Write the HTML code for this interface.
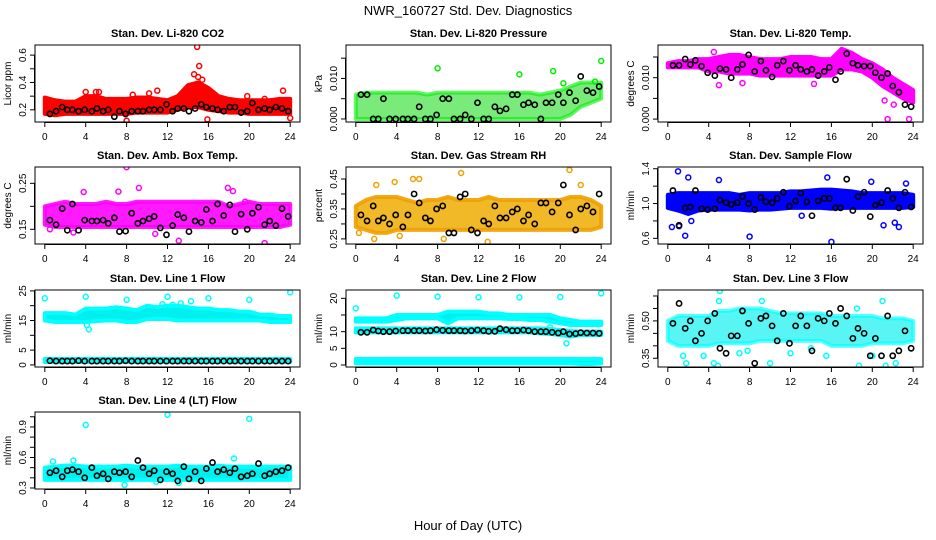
<!DOCTYPE html>
<html><head><meta charset="utf-8"><style>
body{margin:0;background:#fff}
svg{display:block;font-family:"Liberation Sans",sans-serif}
</style></head><body>
<svg id="chart" width="936" height="540" viewBox="0 0 936 540">
<text x="468" y="15" text-anchor="middle" font-size="13">NWR_160727  Std. Dev. Diagnostics</text>
<text x="468" y="530" text-anchor="middle" font-size="13">Hour of Day (UTC)</text>
<g id="panels"></g>
</svg>
<script>
const blackHours=[0.5,1.1,1.7,2.2,2.7,3.3,3.9,4.6,5.1,5.7,6.2,6.8,7.3,7.9,8.5,9.1,9.6,10.2,10.7,11.3,11.9,12.5,13.0,13.6,14.1,14.7,15.3,15.8,16.4,16.9,17.5,18.1,18.6,19.2,19.8,20.3,20.9,21.5,22.0,22.6,23.2,23.8];
const bandHours=[0,1,2,3,4,5,6,7,8,9,10,11,12,13,14,15,16,17,18,19,20,21,22,23,24];
const xTicks=[0,4,8,12,16,20,24];

const co2Lo=[.17,.16,.17,.17,.17,.17,.17,.17,.17,.18,.18,.18,.18,.2,.22,.22,.2,.19,.18,.18,.17,.17,.17,.17,.17];
const co2Hi=[.29,.27,.26,.26,.30,.30,.28,.28,.28,.29,.29,.28,.27,.30,.38,.40,.36,.30,.28,.27,.27,.27,.27,.28,.28];
const co2OutX=[4,5,5.3,8.6,10.2,11,14.6,14.9,15.1,15,15.4,15.9,8,23.3,24,19.8,21.5];
const co2OutY=[.33,.33,.33,.31,.32,.34,.46,.66,.52,.44,.42,.13,.12,.34,.14,.3,.28];
const co2Black=[.17,.19,.22,.20,.20,.19,.20,.19,.21,.19,.20,.15,.19,.17,.19,.19,.19,.20,.20,.20,.24,.19,.21,.21,.19,.21,.24,.22,.21,.20,.19,.22,.22,.18,.19,.25,.20,.21,.20,.22,.21,.19];
const prLo=[0,0,0,0,0,0,0,0,0,0,0,0,0,0,0,0,0,0,0,0,0,.001,.003,.004,.005];
const prHi=[.006,.0065,.0065,.0065,.0065,.0065,.0065,.006,.0065,.0065,.0065,.0065,.0065,.0065,.0065,.0065,.0065,.0065,.006,.0065,.007,.008,.009,.009,.009];
const prOutX=[8,16,19.3,20.3,23.4,24];
const prOutY=[.0125,.011,.0118,.0088,.0092,.0143];
const prBlack=[.006,.006,0,0,.005,0,0,0,0,0,.003,0,0,.001,.005,.005,0,0,.001,0,.004,0,0,.003,.002,.0025,.006,.006,.0035,.004,.0035,0,.004,.004,.006,.004,.0065,.0045,.0105,.007,.0065,.008];
const tLo=[.0125,.0125,.0125,.0125,.0115,.0115,.011,.011,.011,.0105,.0105,.0105,.0105,.0105,.0105,.0105,.0105,.012,.012,.0115,.010,.008,.0065,.005,.004];
const tHi=[.0135,.014,.014,.0145,.0145,.015,.0155,.0155,.015,.0145,.0145,.0145,.015,.015,.015,.0145,.0145,.017,.016,.0145,.0135,.012,.010,.0085,.007];
const tOutX=[4.5,5,7.3,14.3,21.5,23.6,22.1,21.2];
const tOutY=[.0162,.0082,.0087,.0085,0,0,.0035,.0045];
const tBlack=[.013,.013,.0145,.0132,.0142,.0128,.0112,.0105,.0122,.012,.01,.012,.0132,.0155,.0115,.014,.0118,.0102,.013,.014,.0118,.013,.012,.0115,.012,.0105,.0115,.0125,.0095,.0115,.0158,.0135,.013,.0128,.0128,.0112,.01,.011,.008,.0065,.0035,.003];
const abLo=[.16,.155,.155,.155,.155,.155,.155,.155,.155,.155,.155,.155,.155,.155,.155,.155,.155,.155,.155,.155,.155,.155,.155,.155,.16];
const abHi=[.2,.205,.21,.205,.205,.205,.21,.205,.205,.21,.21,.21,.21,.21,.21,.21,.21,.21,.2,.205,.21,.205,.205,.205,.205];
const abOutX=[8,9.2,3.8,7.2,17.9,18.4,21.5,13.1,0.5,2.8,19.6,10.8];
const abOutY=[.285,.24,.231,.232,.24,.233,.12,.125,.15,.143,.21,.14];
const abBlack=[.17,.16,.195,.148,.205,.148,.17,.168,.168,.17,.163,.175,.145,.146,.185,.163,.168,.173,.178,.153,.138,.158,.182,.175,.145,.168,.165,.193,.168,.205,.18,.203,.145,.183,.15,.185,.198,.16,.168,.158,.195,.178];
const rhLo=[.29,.28,.27,.27,.28,.28,.28,.28,.28,.28,.28,.28,.28,.28,.28,.28,.28,.28,.28,.28,.28,.28,.28,.28,.29];
const rhHi=[.36,.38,.39,.39,.39,.38,.37,.38,.38,.39,.38,.38,.38,.39,.38,.38,.38,.38,.38,.38,.38,.39,.39,.38,.36];
const rhOutX=[2,3.8,5.6,6.2,10.3,20.9,1.8,12.9,4.3,22,8.6,0.3];
const rhOutY=[.43,.44,.45,.45,.47,.48,.25,.24,.26,.43,.25,.27];
const rhBlack=[.33,.31,.36,.31,.32,.30,.33,.29,.33,.40,.37,.32,.31,.35,.36,.27,.27,.39,.40,.28,.27,.31,.30,.36,.32,.32,.34,.35,.31,.33,.30,.37,.37,.34,.37,.43,.33,.28,.35,.36,.34,.40];
const sfLo=[.95,.92,.88,.92,.93,.93,.93,.93,.92,.93,.93,.94,.95,.95,.95,.95,.94,.95,.95,.95,.95,.95,.95,.95,.96];
const sfHi=[1.1,1.12,1.12,1.12,1.12,1.12,1.12,1.1,1.12,1.12,1.12,1.12,1.14,1.14,1.15,1.16,1.16,1.15,1.14,1.12,1.12,1.12,1.12,1.12,1.1];
const sfOutX=[1,0.4,1.1,1.7,2,8,16,5,15.6,21.1,22.2,22.6,23.3,13.1,2.3,19.9];
const sfOutY=[1.37,.73,.74,.63,1.3,.62,.56,1.27,1.3,.75,.78,.73,1.23,.86,.8,1.25];
const sfBlack=[1.15,.75,.95,.96,1.15,.94,.93,.94,1.04,1.01,.99,1.01,1.08,1.0,.93,1.07,1.02,1.01,1.06,1.13,.97,1.03,1.12,1.02,.86,1.03,1.06,1.06,.95,.95,1.28,.92,1.08,1.13,.85,.98,1.01,1.15,1.06,.95,1.13,.96];
const l1Lo=[15,14.5,14.5,14.5,14.5,14.8,15,15,14.5,14.5,15.5,15.5,15.5,15,15,15,15,15,15,15,15,15,14.5,14.5,14.5];
const l1Hi=[17.5,17.5,17.5,17,19,19,19,19.5,19,18.5,20,19.5,20,20,19.5,19,19,18.5,18.5,18,18,17,17,16.5,16.5];
const l1BaseLo=[1,1,1,1,1,1,1,1,1,1,1,1,1,1,1,1,1,1,1,1,1,1,1,1,1];
const l1BaseHi=[2,2,2,2,2,2,2,2,2,2,2,2,2,2,2,2,2,2,2,2,2,2,2,2,2];
const l1OutX=[0,4,8,12,16,20,24,4.3,4.1,11.5,13.3,14.3,12.5];
const l1OutY=[22.5,23,22,23,22.5,22,24.5,12,13.5,20.5,20.8,21.5,20.3];
const l1Black=[1.4,1.3,1.3,1.3,1.3,1.4,1.3,1.3,1.3,1.3,1.3,1.3,1.3,1.4,1.3,1.3,1.3,1.3,1.3,1.3,1.3,1.3,1.3,1.3,1.3,1.3,1.3,1.3,1.3,1.3,1.3,1.3,1.3,1.3,1.3,1.3,1.3,1.3,1.3,1.3,1.3,1.3];
const l2Lo=[13,13,13,13,13.5,14,14,14,14,12.5,14,14,14,14,14,13.8,13.8,13.5,13.5,13,12.5,12,12,12,12];
const l2Hi=[14,14,14,14,15,15,15,15,15,16,16,16,16,15.5,15.5,15,15,15,15,15,14,13.5,13,13,13];
const l2MidLo=[9.8,9.8,9.8,9.8,9.8,9.8,9.8,9.8,9.8,9.8,9.8,9.8,9.8,9.8,9.8,9.8,9.8,9.8,9.5,9.3,9,8.5,9,9,9];
const l2MidHi=[11,11,11,11,11,11,11,11,11,11,11,11,11,11,11,11,11,11,11,10.8,10.5,10.2,10,10,10];
const l2BaseLo=[.5,.5,.5,.5,.5,.5,.5,.5,.5,.5,.5,.5,.5,.5,.5,.5,.5,.5,.5,.5,.5,.5,.3,.3,.5];
const l2BaseHi=[1.8,1.8,1.8,1.8,1.8,1.8,1.8,1.8,1.8,1.8,1.8,1.8,1.8,1.8,1.8,1.8,1.8,1.8,1.8,1.8,1.8,1.8,1.8,1.8,1.8];
const l2OutX=[0,4,8,12,16,20,24,20.6,19];
const l2OutY=[17,20.8,20.5,20.3,20.3,20.4,21.5,6.5,11.3];
const l2Black=[9.8,9.8,10.5,10.2,10,10,10.2,10.3,10.3,10.3,10.3,10.2,10.3,10.6,10.4,10.3,10.3,10.3,10.2,10.3,10.5,10.3,10.1,10.1,10.9,10.6,10.3,10.3,10.5,10.3,10,10,10,9.8,9.6,10,9.3,9.4,9.7,9.6,9.6,9.5];
const l3Lo=[.42,.40,.40,.40,.40,.41,.41,.41,.41,.42,.42,.42,.42,.42,.42,.42,.40,.40,.40,.40,.41,.41,.41,.41,.42];
const l3Hi=[.50,.52,.52,.52,.52,.54,.54,.55,.55,.55,.54,.53,.53,.53,.53,.53,.52,.52,.52,.52,.52,.51,.51,.51,.50];
const l3OutX=[1.8,4.5,4.9,5.1,5,9.2,10,12,15.5,18.7,21.3,22.3,1.5,7,7.8,18.5,21,3.5,14,20];
const l3OutY=[.33,.33,.32,.62,.58,.58,.33,.37,.36,.32,.32,.33,.36,.37,.38,.55,.58,.36,.39,.36];
const l3Black=[.49,.57,.47,.50,.42,.45,.50,.53,.39,.37,.44,.44,.54,.49,.33,.51,.52,.48,.42,.53,.41,.48,.52,.48,.38,.51,.50,.53,.49,.55,.52,.43,.47,.45,.36,.43,.36,.52,.36,.38,.46,.39];
const l4Lo=[.38,.38,.38,.38,.38,.38,.38,.38,.38,.38,.38,.38,.38,.38,.38,.38,.38,.38,.38,.38,.38,.38,.38,.38,.38];
const l4Hi=[.50,.51,.52,.52,.51,.51,.51,.51,.52,.51,.51,.51,.51,.52,.51,.51,.51,.52,.51,.51,.51,.51,.51,.51,.51];
const l4OutX=[4,12,20,0.8,2.8,7.8,18.5,10.9,13.1];
const l4OutY=[.92,1.02,.98,.56,.57,.33,.59,.36,.35];
const l4Black=[.45,.47,.41,.47,.48,.46,.40,.50,.42,.44,.39,.46,.45,.46,.41,.57,.50,.44,.47,.38,.46,.44,.37,.51,.39,.46,.37,.49,.55,.46,.48,.45,.49,.41,.42,.44,.54,.42,.44,.46,.47,.50];

const panels=[
 {name:'co2',title:'Stan. Dev. Li-820 CO2',yl:'Licor ppm',col:0,row:0,y0:.111,y1:.674,ticks:[.2,.3,.4,.5,.6],labels:['0.2','','0.4','','0.6'],color:'#ff0000',fill:'#ff0000',op:1,bands:[[co2Lo,co2Hi]],ox:co2OutX,oy:co2OutY,bk:co2Black},
 {name:'pressure',title:'Stan. Dev. Li-820 Pressure',yl:'kPa',col:1,row:0,y0:-.00075,y1:.01825,ticks:[0,.005,.01,.015],labels:['0.000','','0.010',''],color:'#00ee00',fill:'#22dd22',op:.6,bands:[[prLo,prHi]],ox:prOutX,oy:prOutY,bk:prBlack},
 {name:'temp',title:'Stan. Dev. Li-820 Temp.',yl:'degrees C',col:2,row:0,y0:-.0007,y1:.0179,ticks:[0,.005,.01,.015],labels:['0.000','','0.010',''],color:'#ff00ff',fill:'#ff00ff',op:1,bands:[[tLo,tHi]],ox:tOutX,oy:tOutY,bk:tBlack},
 {name:'amb-box-temp',title:'Stan. Dev. Amb. Box Temp.',yl:'degrees C',col:0,row:1,y0:.118,y1:.2855,ticks:[.15,.2,.25],labels:['0.15','','0.25'],color:'#ff00ff',fill:'#ff00ff',op:.9,bands:[[abLo,abHi]],ox:abOutX,oy:abOutY,bk:abBlack},
 {name:'gas-rh',title:'Stan. Dev. Gas Stream RH',yl:'percent',col:1,row:1,y0:.233,y1:.49,ticks:[.25,.3,.35,.4,.45],labels:['0.25','','0.35','','0.45'],color:'#f0a000',fill:'#f0b010',op:.9,bands:[[rhLo,rhHi]],ox:rhOutX,oy:rhOutY,bk:rhBlack},
 {name:'sample-flow',title:'Stan. Dev. Sample Flow',yl:'ml/min',col:2,row:1,y0:.535,y1:1.42,ticks:[.6,.8,1.0,1.2,1.4],labels:['0.6','','1.0','','1.4'],color:'#0000ff',fill:'#0000ff',op:1,bands:[[sfLo,sfHi]],ox:sfOutX,oy:sfOutY,bk:sfBlack},
 {name:'line1-flow',title:'Stan. Dev. Line 1 Flow',yl:'ml/min',col:0,row:2,y0:-.7,y1:25.3,ticks:[0,5,10,15,20,25],labels:['0','5','','15','','25'],color:'#00ffff',fill:'#00f0f0',op:1,bands:[[l1Lo,l1Hi],[l1BaseLo,l1BaseHi]],ox:l1OutX,oy:l1OutY,bk:l1Black},
 {name:'line2-flow',title:'Stan. Dev. Line 2 Flow',yl:'ml/min',col:1,row:2,y0:-.6,y1:22.5,ticks:[0,5,10,15,20],labels:['0','5','10','','20'],color:'#00ffff',fill:'#00f0f0',op:1,bands:[[l2Lo,l2Hi],[l2MidLo,l2MidHi],[l2BaseLo,l2BaseHi]],ox:l2OutX,oy:l2OutY,bk:l2Black},
 {name:'line3-flow',title:'Stan. Dev. Line 3 Flow',yl:'ml/min',col:2,row:2,y0:.315,y1:.624,ticks:[.35,.4,.45,.5,.55,.6],labels:['0.35','','','0.50','',''],color:'#00ffff',fill:'#00f0f0',op:.65,bands:[[l3Lo,l3Hi]],ox:l3OutX,oy:l3OutY,bk:l3Black},
 {name:'line4-flow',title:'Stan. Dev. Line 4 (LT) Flow',yl:'ml/min',col:0,row:3,y0:.29,y1:1.047,ticks:[.3,.4,.5,.6,.7,.8,.9,1.0],labels:['0.3','','','0.6','','','0.9',''],color:'#00ffff',fill:'#00f0f0',op:1,bands:[[l4Lo,l4Hi]],ox:l4OutX,oy:l4OutY,bk:l4Black}
];
const colLeft=[35,346,658], rowTop=[45,167,290,412], W=265, H=77;
const NS='http://www.w3.org/2000/svg';
const root=document.getElementById('panels');
function mk(tag,attrs,parent){const e=document.createElementNS(NS,tag);for(const k in attrs)e.setAttribute(k,attrs[k]);parent.appendChild(e);return e;}
panels.forEach(p=>{
 const L=colLeft[p.col],T=rowTop[p.row];
 const xs=h=>L+(h+0.96)/25.92*W;
 const ys=v=>T+H-(v-p.y0)/(p.y1-p.y0)*H;
 const g=mk('g',{},root);
 
 
 const cp=mk('clipPath',{id:'c-'+p.name},g);mk('rect',{x:L,y:T,width:W,height:H},cp);
 const t=mk('text',{x:L+W/2,y:T-8,'text-anchor':'middle','font-size':11,'font-weight':'bold'},g);t.textContent=p.title;
 
 
 const yl=mk('text',{x:0,y:0,'text-anchor':'middle','font-size':10,transform:`translate(${L-24},${T+H/2}) rotate(-90)`},g);yl.textContent=p.yl;
 
 
 const plot=mk('g',{'clip-path':`url(#c-${p.name})`},g);
 p.bands.forEach(b=>{
  const [lo,hi]=b;let pts=[];
  bandHours.forEach((h,i)=>pts.push(xs(h)+','+ys(hi[i])));
  for(let i=bandHours.length-1;i>=0;i--)pts.push(xs(bandHours[i])+','+ys(lo[i]));
  const pg=mk('polygon',{points:pts.join(' '),fill:p.fill,'fill-opacity':p.op,stroke:p.color,'stroke-opacity':p.op,'stroke-width':4,'stroke-linejoin':'round'},plot);
  
  
 });
 p.ox.forEach((h,i)=>{
  const c=mk('circle',{cx:xs(h),cy:ys(p.oy[i]),r:2.5,fill:'none',stroke:p.color,'stroke-width':1.5},plot);
  
  
 });
 p.bk.forEach((v,i)=>{
  if(blackHours[i]===undefined)return;
  const c=mk('circle',{cx:xs(blackHours[i]),cy:ys(v),r:2.6,fill:'none',stroke:'#000','stroke-width':1.6},plot);
  
  
 });
 const box=mk('rect',{x:L,y:T,width:W,height:H,fill:'none',stroke:'#000','stroke-width':1},g);
 
 
 xTicks.forEach(h=>{
  mk('line',{x1:xs(h),x2:xs(h),y1:T+H,y2:T+H+5,stroke:'#000'},g);
  const tl=mk('text',{x:xs(h),y:T+H+18,'text-anchor':'middle','font-size':10},g);tl.textContent=h;
  
  
 });
 mk('line',{x1:xs(0),x2:xs(24),y1:T+H+0.5,y2:T+H+0.5,stroke:'#000'},g);
 mk('line',{x1:L-0.5,x2:L-0.5,y1:ys(p.ticks[0]),y2:ys(p.ticks[p.ticks.length-1]),stroke:'#000'},g);
 p.ticks.forEach((v,i)=>{
  mk('line',{x1:L-5,x2:L,y1:ys(v),y2:ys(v),stroke:'#000'},g);
  if(p.labels[i]){
   const tl=mk('text',{x:0,y:0,'text-anchor':'middle','font-size':10,transform:`translate(${L-9},${ys(v)}) rotate(-90)`},g);tl.textContent=p.labels[i];
   
   
  }
 });
});
</script>
</body></html>
